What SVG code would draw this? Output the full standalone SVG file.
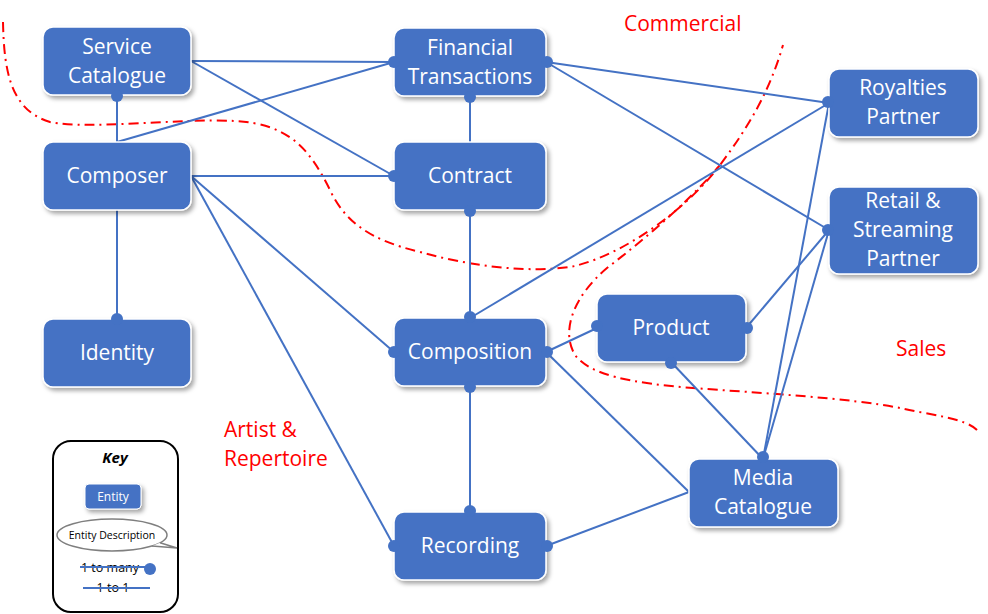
<svg xmlns="http://www.w3.org/2000/svg" width="988" height="614" viewBox="0 0 988 614">
<defs>
<filter id="sh" x="-20%" y="-20%" width="150%" height="160%">
<feDropShadow dx="2.5" dy="3" stdDeviation="2" flood-color="#000" flood-opacity="0.35"/>
</filter>
</defs>
<style>
.node rect{fill:#4472C4;stroke:#fff;stroke-width:1.5;filter:url(#sh)}
.node text{fill:#fff;font-family:"Open Sans","Noto Sans",sans-serif;font-size:21px;text-anchor:middle}
.conn line{stroke:#4472C4;stroke-width:2}
.dot{fill:#4472C4}
.bound{fill:none;stroke:#FF0000;stroke-width:2;stroke-dasharray:10 5 2 5}
.lbl{fill:#FF0000;font-family:"Open Sans","Noto Sans",sans-serif;font-size:21px}
.key text{font-family:"Open Sans","Noto Sans",sans-serif;text-anchor:middle}
</style>
<rect width="988" height="614" fill="#fff"/>

<g id="boundaries">
<path class="bound" d="M3,22 C4,70 10,110 50,122 C90,130 180,118 235,121 C290,124 310,150 330,190 C345,222 370,240 420,252 C470,266 530,274 575,266 C630,252 690,205 720,165 C750,125 770,90 783,45"/>
<path class="bound" d="M977,430 C965,418 930,415 900,408 C850,398 760,393 693,388 C630,383 590,375 575,355 C560,330 575,295 607,268 C650,235 690,200 720,165"/>
</g>

<g id="connectors" class="conn">
<line x1="117" y1="95" x2="117" y2="142"/>
<line x1="191" y1="61" x2="394" y2="62"/>
<line x1="191" y1="61" x2="394" y2="176"/>
<line x1="117" y1="142" x2="394" y2="62"/>
<line x1="191" y1="176" x2="394" y2="176"/>
<line x1="191" y1="176" x2="394" y2="352"/>
<line x1="191" y1="176" x2="394" y2="546"/>
<line x1="117" y1="210" x2="117" y2="319"/>
<line x1="470" y1="96" x2="470" y2="142"/>
<line x1="470" y1="210" x2="470" y2="318"/>
<line x1="470" y1="386" x2="470" y2="512"/>
<line x1="546" y1="62" x2="829" y2="103"/>
<line x1="546" y1="62" x2="829" y2="230"/>
<line x1="470" y1="318" x2="829" y2="103"/>
<line x1="829" y1="103" x2="763" y2="459"/>
<line x1="829" y1="230" x2="763" y2="459"/>
<line x1="829" y1="230" x2="746" y2="328"/>
<line x1="546" y1="352" x2="597" y2="328"/>
<line x1="546" y1="352" x2="689" y2="492"/>
<line x1="546" y1="546" x2="689" y2="492"/>
<line x1="671" y1="362" x2="763" y2="459"/>
</g>

<g id="n-service-catalogue" class="node"><rect x="43" y="27" width="148" height="68" rx="10"/><text x="117" y="54">Service</text><text x="117" y="83">Catalogue</text></g>
<g id="n-composer" class="node"><rect x="43" y="142" width="148" height="68" rx="10"/><text x="117" y="183">Composer</text></g>
<g id="n-identity" class="node"><rect x="43" y="319" width="148" height="68" rx="10"/><text x="117" y="360">Identity</text></g>
<g id="n-financial" class="node"><rect x="394" y="28" width="152" height="68" rx="10"/><text x="470" y="55">Financial</text><text x="470" y="84">Transactions</text></g>
<g id="n-contract" class="node"><rect x="394" y="142" width="152" height="68" rx="10"/><text x="470" y="183">Contract</text></g>
<g id="n-composition" class="node"><rect x="394" y="318" width="152" height="68" rx="10"/><text x="470" y="359">Composition</text></g>
<g id="n-recording" class="node"><rect x="394" y="512" width="152" height="68" rx="10"/><text x="470" y="553">Recording</text></g>
<g id="n-product" class="node"><rect x="597" y="294" width="149" height="68" rx="10"/><text x="671" y="335">Product</text></g>
<g id="n-media-catalogue" class="node"><rect x="689" y="459" width="149" height="68" rx="10"/><text x="763" y="485">Media</text><text x="763" y="514">Catalogue</text></g>
<g id="n-royalties" class="node"><rect x="829" y="69" width="149" height="68" rx="10"/><text x="903" y="95">Royalties</text><text x="903" y="124">Partner</text></g>
<g id="n-retail" class="node"><rect x="829" y="187" width="149" height="87" rx="10"/><text x="903" y="208">Retail &amp;</text><text x="903" y="237">Streaming</text><text x="903" y="266">Partner</text></g>

<g id="connector-ends">
<circle class="dot" cx="117" cy="96" r="6"/>
<circle class="dot" cx="394" cy="62" r="6"/>
<circle class="dot" cx="394" cy="176" r="6"/>
<circle class="dot" cx="394" cy="352" r="6"/>
<circle class="dot" cx="394" cy="546" r="6"/>
<circle class="dot" cx="117" cy="319" r="6"/>
<circle class="dot" cx="470" cy="97" r="6"/>
<circle class="dot" cx="470" cy="211" r="6"/>
<circle class="dot" cx="470" cy="317" r="6"/>
<circle class="dot" cx="470" cy="387" r="6"/>
<circle class="dot" cx="470" cy="511" r="6"/>
<circle class="dot" cx="547" cy="62" r="6"/>
<circle class="dot" cx="547" cy="352" r="6"/>
<circle class="dot" cx="597" cy="326" r="6"/>
<circle class="dot" cx="747" cy="328" r="6"/>
<circle class="dot" cx="671" cy="363" r="6"/>
<circle class="dot" cx="828" cy="102" r="6"/>
<circle class="dot" cx="828" cy="230" r="6"/>
<circle class="dot" cx="763" cy="457" r="6"/>
<circle class="dot" cx="547" cy="546" r="6"/>
</g>

<g id="labels">
<text class="lbl" x="624" y="31">Commercial</text>
<text class="lbl" x="896" y="356">Sales</text>
<text class="lbl" x="224" y="437">Artist &amp;</text>
<text class="lbl" x="224" y="466">Repertoire</text>
</g>

<g id="key" class="key">
<rect x="53" y="441" width="125" height="171" rx="18" fill="#fff" stroke="#000" stroke-width="2"/>
<text x="115" y="463" font-size="15" font-weight="bold" font-style="italic" fill="#000">Key</text>
<rect x="85" y="484" width="56" height="25" rx="4" fill="#4472C4" stroke="#fff" stroke-width="1" filter="url(#sh)"/>
<text x="113" y="501" font-size="12" fill="#fff">Entity</text>
<ellipse cx="112" cy="535" rx="55" ry="16" fill="#fff" stroke="#7f7f7f" stroke-width="1.5"/>
<path d="M160,542.8 L177,548 L152,546" fill="#fff" stroke="#7f7f7f" stroke-width="1.5"/>
<text x="112" y="539" font-size="10.5" fill="#000">Entity Description</text>
<text x="110" y="572" font-size="12.5" fill="#000">1 to many</text>
<line x1="80" y1="567" x2="147" y2="567" stroke="#4472C4" stroke-width="2"/>
<circle class="dot" cx="150" cy="569" r="6"/>
<text x="113" y="592" font-size="12.5" fill="#000">1 to 1</text>
<line x1="83" y1="588" x2="150" y2="588" stroke="#4472C4" stroke-width="2"/>
</g>
</svg>
